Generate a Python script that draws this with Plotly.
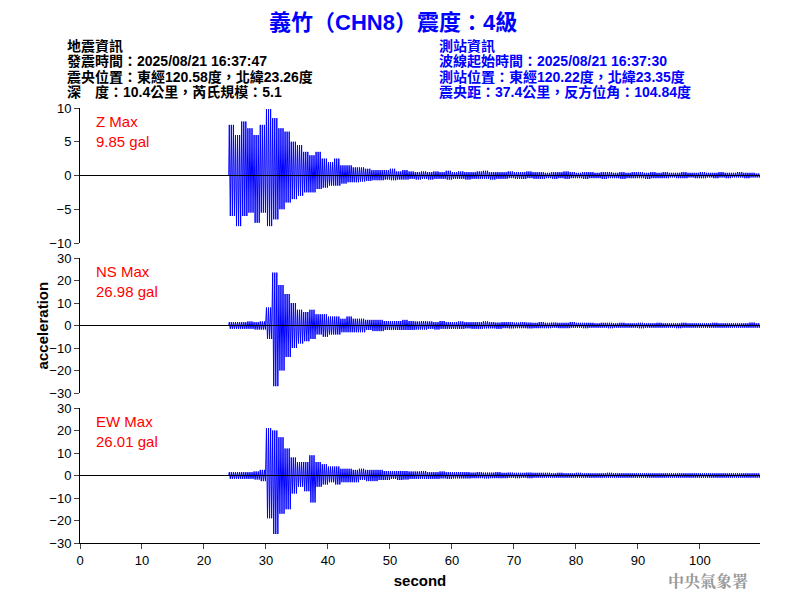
import plotly.graph_objects as go
from plotly.subplots import make_subplots

# per-second envelope (gal), starting at t0
t0 = 24
z_top = [7.5, 6, 8, 7, 6, 7.5, 9.85, 8.5, 7, 6.5, 5, 4.5, 3.5, 3, 3.5, 2.5, 2, 2.5, 1.5, 1.5,
         1.2, 1.2, 1, 0.8, 0.8, 0.8, 1, 0.6, 0.8, 0.6, 0.5, 0.6, 0.5, 0.6, 0.5, 0.7, 0.5, 0.6,
         0.5, 0.5, 0.6, 0.7, 0.5, 0.5, 0.5, 0.6, 0.5, 0.5, 0.6, 0.5, 0.5, 0.4, 0.5, 0.5, 0.6,
         0.5, 0.4, 0.5, 0.5, 0.4, 0.5, 0.5, 0.4, 0.5, 0.4, 0.5, 0.5, 0.4, 0.5, 0.4, 0.5, 0.4,
         0.4, 0.5, 0.4, 0.4, 0.5, 0.4, 0.4, 0.5, 0.4, 0.4, 0.5, 0.4, 0.4, 0.3]
z_bot = [-6, -7.5, -6, -5.5, -7, -5.5, -7.5, -6.5, -5, -4, -3.5, -3, -2.5, -2.5, -2, -1.8,
         -1.5, -1.5, -1.2, -1, -1, -0.9, -0.8, -0.7, -0.7, -0.6, -0.7, -0.6, -0.6, -0.5, -0.6,
         -0.5, -0.6, -0.5, -0.5, -0.6, -0.5, -0.5, -0.6, -0.5, -0.5, -0.5, -0.6, -0.5, -0.5,
         -0.4, -0.5, -0.5, -0.4, -0.5, -0.5, -0.4, -0.5, -0.4, -0.5, -0.4, -0.4, -0.5, -0.4,
         -0.4, -0.5, -0.4, -0.4, -0.5, -0.4, -0.4, -0.4, -0.5, -0.4, -0.4, -0.4, -0.3, -0.4,
         -0.4, -0.3, -0.4, -0.4, -0.3, -0.4, -0.3, -0.4, -0.3, -0.3, -0.4, -0.3, -0.3]
ns_top = [1.5, 1.5, 1.5, 1.8, 1.5, 1.8, 8, 23.5, 18, 14, 10, 7, 6, 7, 5, 5, 4, 4, 3, 4, 3, 3,
          2.5, 2.5, 2.5, 2, 2, 2, 2.5, 2, 1.8, 2, 1.8, 1.5, 2, 1.5, 1.5, 1.8, 1.5, 1.5, 1.5,
          1.8, 1.5, 1.3, 1.5, 1.5, 1.3, 1.5, 1.3, 1.2, 1.5, 1.2, 1.3, 1.2, 1.2, 1.5, 1.2, 1.2,
          1.2, 1, 1.2, 1.2, 1, 1.2, 1, 1, 1.2, 1, 1, 1.2, 1, 1, 1, 1.2, 1, 1, 1, 1, 1.2, 1,
          1, 1, 1, 1, 1.3, 1]
ns_bot = [-1.5, -1.5, -1.5, -1.5, -1.8, -1.8, -6, -26.98, -20, -14, -10, -8, -7, -6, -4, -5,
          -4, -4, -3, -3, -3, -3, -2, -2.5, -2.5, -2, -2, -2, -2, -2, -1.8, -1.8, -1.5, -1.8,
          -1.5, -1.5, -1.5, -1.5, -1.3, -1.5, -1.5, -1.3, -1.3, -1.5, -1.2, -1.3, -1.2, -1.2,
          -1.3, -1.2, -1.2, -1.2, -1, -1.2, -1.2, -1, -1, -1.2, -1, -1, -1, -1.2, -1, -1, -1,
          -1, -1.2, -1, -1, -1, -1, -1, -1.2, -1, -1, -1, -1, -1, -1, -1, -1, -1, -1, -1, -1, -1]
ew_top = [1.5, 1.5, 1.5, 1.5, 1.8, 2.5, 21, 20, 17, 12, 8, 6, 6, 9, 6, 5, 4, 4, 3, 3, 2.5,
          3, 2.5, 2.5, 2.5, 2, 2, 2, 2, 1.8, 1.8, 2, 1.5, 1.5, 1.8, 1.5, 1.5, 1.5, 1.5, 1.3,
          1.5, 1.3, 1.3, 1.5, 1.2, 1.3, 1.2, 1.2, 1.3, 1.2, 1.2, 1.2, 1, 1.2, 1, 1, 1.2, 1,
          1, 1, 1, 1.2, 1, 1, 1, 1, 1, 1, 1, 1, 1, 1, 1, 1, 1, 1, 1, 1, 1, 1, 1, 1, 1, 1, 1, 1]
ew_bot = [-1.5, -1.5, -1.5, -1.5, -1.8, -2.5, -19, -26.01, -17, -15, -8, -5, -7, -12, -5, -4,
          -3, -4, -3, -3, -3, -2, -2.5, -2.5, -2, -2, -1.5, -2, -1.8, -1.5, -1.5, -1.5, -1.5,
          -1.5, -1.3, -1.5, -1.3, -1.3, -1.3, -1.2, -1.2, -1.3, -1.2, -1.2, -1.2, -1, -1.2,
          -1, -1.2, -1, -1, -1, -1, -1, -1, -1, -1, -1, -1, -1, -1, -1, -1, -1, -1, -1, -1,
          -1, -1, -1, -1, -1, -1, -1, -1, -1, -1, -1, -1, -1, -1, -1, -1, -1, -1, -1]

channels = ["Z", "NS", "EW"]
pga = ["9.85", "26.98", "26.01"]
env = [(z_top, z_bot), (ns_top, ns_bot), (ew_top, ew_bot)]
y_ranges = [[-10, 10], [-30, 30], [-30, 30]]
y_dtick = [5, 10, 10]
cycles = 3  # oscillations drawn per second of envelope


def trace_xy(top, bot):
    xs, ys = [0, t0], [0, 0]
    for i in range(len(top)):
        for c in range(cycles):
            xs += [t0 + i + (c + 0.25) / cycles, t0 + i + (c + 0.75) / cycles]
            ys += [top[i], bot[i]]
    return xs, ys


fig = make_subplots(rows=3, cols=1, shared_xaxes=True, vertical_spacing=15 / 435)

for i, (top, bot) in enumerate(env):
    xs, ys = trace_xy(top, bot)
    fig.add_trace(go.Scatter(x=xs, y=ys, mode="lines", line=dict(color="#0000ff", width=1),
                             showlegend=False), row=i + 1, col=1)
    fig.add_trace(go.Scatter(x=[0, 110], y=[0, 0], mode="lines", line=dict(color="black", width=1),
                             showlegend=False), row=i + 1, col=1)
    fig.update_yaxes(range=y_ranges[i], dtick=y_dtick[i], showline=True, linecolor="black",
                     ticks="outside", ticklen=5, showgrid=False, zeroline=False, automargin=False,
                     tickfont=dict(family="Arial", size=13, color="black"), row=i + 1, col=1)
    yref = "y domain" if i == 0 else "y%d domain" % (i + 1)
    fig.add_annotation(text="%s Max<br>%s gal" % (channels[i], pga[i]), xref="paper", yref=yref,
                       x=0.02, y=0.98, xanchor="left", yanchor="top", showarrow=False, align="left",
                       font=dict(family="Arial", size=15, color="#ff0000"))

fig.update_xaxes(range=[0, 109.7], dtick=10, showgrid=False, zeroline=False, showline=False,
                 automargin=False)
fig.update_xaxes(showline=True, linecolor="black", ticks="outside", ticklen=5,
                 tickfont=dict(family="Arial", size=13, color="black"),
                 title=dict(text="<b>second</b>", font=dict(family="Arial", size=15, color="black"),
                            standoff=8), row=3, col=1)

fig.add_annotation(text="<b>acceleration</b>", xref="paper", yref="paper", x=-0.07, y=0.5,
                   textangle=-90, showarrow=False, font=dict(family="Arial", size=15, color="black"))

cjk = "Noto Sans CJK TC"
fig.add_annotation(text="<b>義竹（CHN8）震度：4級</b>", xref="paper", yref="paper", x=0.5 - 0.04,
                   y=1 + 100 / 435, showarrow=False, yanchor="top",
                   font=dict(family="Arial, " + cjk, size=22, color="#0000ff"))

left_info = ["地震資訊", "發震時間：2025/08/21 16:37:47", "震央位置：東經120.58度，北緯23.26度",
             "深　度：10.4公里，芮氏規模：5.1"]
right_info = ["測站資訊", "波線起始時間：2025/08/21 16:37:30", "測站位置：東經120.22度，北緯23.35度",
              "震央距：37.4公里，反方位角：104.84度"]
for k in range(4):
    ypos = 1 + (62 - 15.5 * k) / 435
    fig.add_annotation(text="<b>%s</b>" % left_info[k], xref="paper", yref="paper",
                       x=-15 / 680, y=ypos, xanchor="left", yanchor="middle", showarrow=False,
                       font=dict(family="Arial, " + cjk, size=14, color="black"))
    fig.add_annotation(text="<b>%s</b>" % right_info[k], xref="paper", yref="paper",
                       x=357 / 680, y=ypos, xanchor="left", yanchor="middle", showarrow=False,
                       font=dict(family="Arial, " + cjk, size=14, color="#0000ff"))

fig.add_annotation(text="<b>中央氣象署</b>", xref="paper", yref="paper", x=1 - 10 / 680, y=-37 / 435,
                   xanchor="right", yanchor="middle", showarrow=False,
                   font=dict(family="Noto Serif CJK TC, " + cjk, size=16, color="#999999"))

# page body adds an 8px offset, so margins are shifted to compensate
fig.update_layout(width=800, height=600, margin=dict(l=72, r=48, t=100, b=65),
                  plot_bgcolor="white", paper_bgcolor="white")

fig.write_html("out.html")
